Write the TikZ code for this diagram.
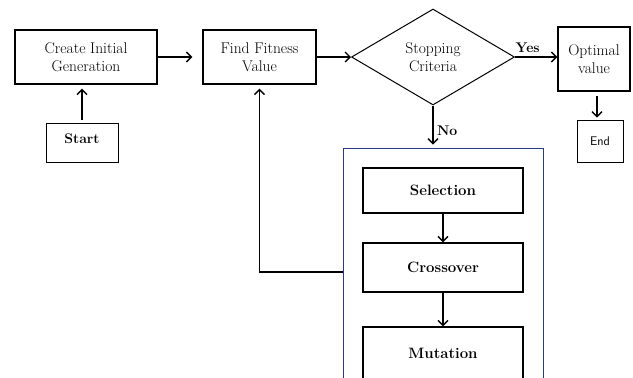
\documentclass[tikz,border=0pt]{standalone}
\usepackage{amsmath}
\usepackage{tikz}
\usetikzlibrary{shapes.geometric,arrows.meta}

\begin{document}
\begin{tikzpicture}[x=1pt,y=-1pt,>={Straight Barb[length=5pt,width=10pt]},line width=1.4pt,
    font=\fontsize{15.5}{18}\selectfont,
    box/.style={draw,rectangle,align=center,inner sep=0pt},
    op/.style={box,minimum width=160pt,font=\fontsize{15}{18}\selectfont\bfseries}]
        \useasboundingbox (0,0) rectangle (633,378);
        \clip (0,0) rectangle (633,378);
        \node[box,minimum width=142pt,minimum height=54pt] (create) at (86,57) {Create Initial\\Generation};
        \node[box,minimum width=113pt,minimum height=54pt] (fit) at (259.5,57) {Find Fitness\\Value};
        \node[draw,diamond,aspect=1.7,minimum width=163pt,minimum height=96pt,inner sep=0pt,align=center,line width=1pt] (stop) at (433,57) {Stopping\\Criteria};
        \node[box,minimum width=72pt,minimum height=64pt] (opt) at (594,59) {Optimal\\value};
        \node[box,minimum width=46pt,minimum height=42pt,line width=0.8pt,font=\sffamily\fontsize{12.5}{14}\selectfont] (endn) at (600,141) {End};
        \node[box,minimum width=72pt,minimum height=39pt,line width=0.8pt,font=\fontsize{14}{16}\selectfont\bfseries] (start) at (82,142.5) {\raisebox{8pt}{Start}};
        \node[box,draw={rgb,255:red,40;green,60;blue,130},line width=1pt,minimum width=200pt,minimum height=252pt] (ops) at (443,274) {};
        \node[op,minimum height=45pt] (sel) at (443,190.5) {Selection};
        \node[op,minimum height=49pt] (cross) at (443,267.5) {Crossover};
        \node[op,minimum height=60pt] (mut) at (443,357) {\raisebox{8pt}{Mutation}};
        \draw[->,shorten <=3pt,shorten >=4pt] (start.north) -- (start.north |- create.south);
        \draw[->,shorten >=10pt] (create.east) -- (fit.west);
        \draw[->] (fit.east) -- (stop.west);
        \draw[->] (stop.east) -- node[above,pos=0.3,font=\fontsize{14}{16}\selectfont\bfseries]{Yes} (stop.east -| opt.west);
        \draw[->,shorten <=4pt,shorten >=2pt] ([xshift=3pt]opt.south) -- ([xshift=3pt]opt.south |- endn.north);
        \draw[->,shorten >=3pt] (stop.south) -- node[right,pos=0.6,font=\fontsize{14}{16}\selectfont\bfseries]{No} (stop.south |- ops.north);
        \draw[->] (sel.south) -- (cross.north);
        \draw[->] (cross.south) -- (mut.north);
        \draw[->,shorten >=4pt] ([yshift=2pt]ops.west) -| (fit.south);
    \end{tikzpicture}
\end{document}
